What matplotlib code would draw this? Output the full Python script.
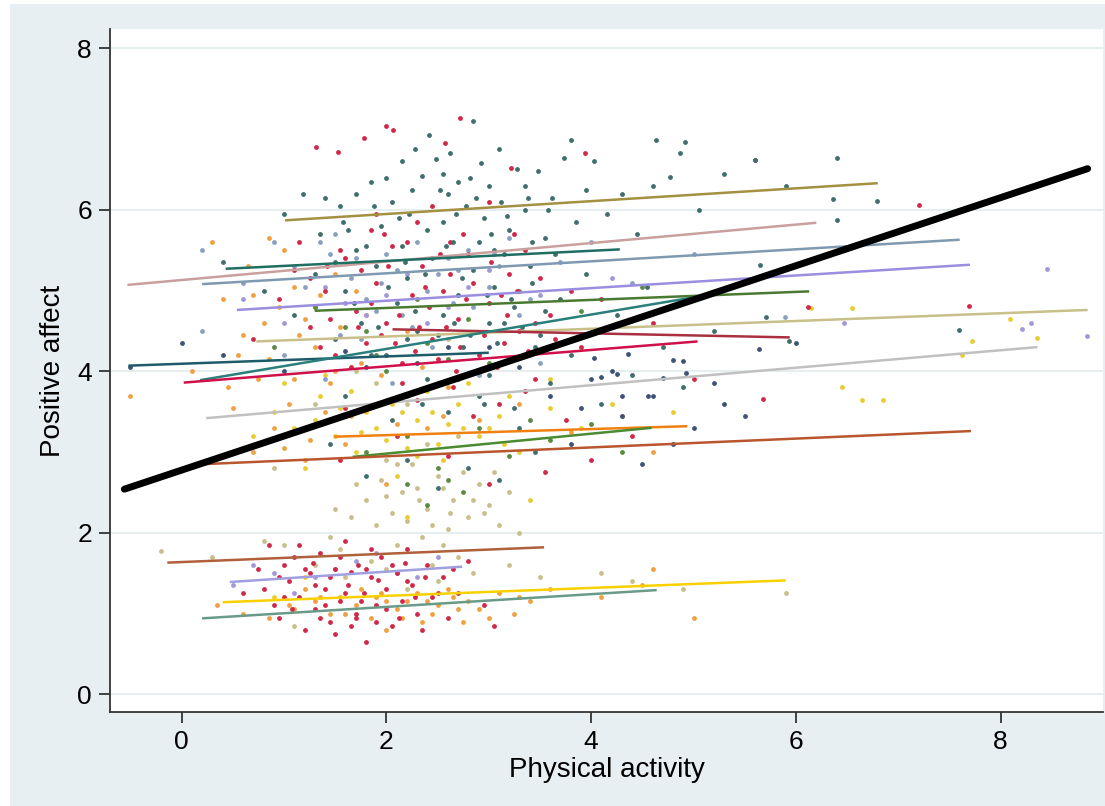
import matplotlib
matplotlib.use("Agg")
import matplotlib.pyplot as plt
from matplotlib.patches import Rectangle

plt.rcParams['font.family'] = ['Liberation Sans', 'DejaVu Sans']

# group-level fitted lines: (colour, x0, y0, x1, y1)
group_lines = [
    ('#a39040', 1.01, 5.87, 6.80, 6.33),
    ('#c9a09e', -0.53, 5.07, 6.20, 5.84),
    ('#7f9ab0', 0.20, 5.08, 7.60, 5.63),
    ('#1f6e62', 0.43, 5.27, 4.28, 5.51),
    ('#9a8ee0', 0.54, 4.76, 7.70, 5.32),
    ('#4a7a30', 1.30, 4.75, 6.13, 4.99),
    ('#c8c088', 0.73, 4.37, 8.85, 4.76),
    ('#a83040', 2.06, 4.52, 5.94, 4.42),
    ('#1d5a6a', -0.52, 4.07, 3.00, 4.23),
    ('#2a7f7a', 0.18, 3.89, 5.16, 4.95),
    ('#d0104a', 0.02, 3.86, 5.04, 4.37),
    ('#c0c0c0', 0.24, 3.42, 8.36, 4.30),
    ('#f08010', 1.49, 3.19, 4.94, 3.32),
    ('#4a8a30', 1.67, 2.94, 4.59, 3.30),
    ('#b8562e', 0.21, 2.85, 7.71, 3.26),
    ('#b0603a', -0.14, 1.63, 3.54, 1.82),
    ('#a0a0e0', 0.47, 1.39, 2.74, 1.58),
    ('#f8d000', 0.40, 1.14, 5.90, 1.41),
    ('#6a9a88', 0.20, 0.94, 4.64, 1.29),
]

# overall fixed-effect line
overall_x = [-0.56, 8.85]
overall_y = [2.54, 6.51]

# observations, grouped by marker colour
pts_dark = [(1.0, 5.95), (1.19, 6.2), (1.35, 5.7), (1.55, 6.05), (1.7, 5.5), (1.85, 6.35), (1.95, 5.8),
            (2.05, 6.1), (2.15, 5.55), (2.25, 6.25), (2.35, 6.42), (2.42, 6.93), (2.48, 6.63), (2.55, 5.85),
            (2.6, 6.2), (2.65, 5.6), (2.7, 6.35), (2.78, 6.05), (2.85, 7.1), (2.92, 6.58), (2.95, 5.9),
            (3.0, 6.3), (3.05, 5.5), (3.12, 6.1), (3.2, 5.75), (3.28, 6.5), (3.35, 6.0), (3.48, 6.48),
            (3.55, 5.65), (3.62, 6.15), (3.73, 6.64), (3.8, 6.86), (3.85, 5.85), (3.95, 6.25), (4.03, 6.6),
            (4.15, 5.95), (4.3, 6.2), (4.45, 5.7), (4.6, 6.3), (4.63, 6.86), (4.77, 6.41), (4.87, 6.7),
            (4.92, 6.84), (5.05, 6.0), (5.3, 6.45), (5.6, 6.62), (5.9, 6.3), (6.36, 6.13), (6.4, 6.64),
            (6.79, 6.11), (6.4, 5.88), (0.4, 5.35), (0.8, 5.0), (1.1, 4.7), (1.3, 5.2), (1.5, 4.4),
            (1.6, 5.0), (1.75, 4.6), (1.9, 5.3), (2.0, 4.2), (2.1, 4.85), (2.2, 5.15), (2.3, 4.5), (2.4, 3.9),
            (2.45, 5.4), (2.55, 4.7), (2.6, 3.5), (2.7, 4.95), (2.75, 4.3), (2.85, 5.25), (2.9, 3.7),
            (3.0, 4.6), (3.05, 5.05), (3.15, 4.1), (3.25, 4.8), (3.3, 3.3), (3.4, 5.3), (3.5, 4.45),
            (3.6, 3.85), (3.7, 4.9), (3.8, 4.2), (3.95, 5.2), (4.1, 3.6), (4.25, 4.7), (4.4, 3.95),
            (4.55, 5.05), (4.7, 4.3), (4.9, 3.8), (5.2, 4.5), (5.65, 5.32), (5.71, 4.67), (5.93, 4.37),
            (7.59, 4.51), (1.45, 3.1), (1.8, 2.7), (2.2, 2.9), (2.5, 2.55), (2.8, 2.8), (3.1, 2.65),
            (3.45, 3.0), (2.05, 3.4), (1.6, 3.7), (2.12, 5.9), (2.4, 5.75), (2.68, 5.95), (2.88, 6.15),
            (3.18, 5.92), (3.42, 5.6), (1.62, 5.75), (1.4, 6.15),
            (1.5, 5.35), (1.68, 4.85), (1.8, 5.55), (1.92, 4.55), (2.02, 5.05), (2.18, 5.35), (2.28, 4.75),
            (2.38, 5.2), (2.5, 4.45), (2.58, 5.55), (2.66, 4.6), (2.74, 5.15), (2.82, 4.45), (2.9, 5.6),
            (2.98, 4.95), (3.08, 4.35), (3.15, 5.45), (3.22, 4.9), (3.32, 4.55), (3.42, 5.1), (3.55, 4.75),
            (3.65, 5.45), (2.35, 3.6), (2.7, 3.9), (3.0, 3.95), (3.25, 3.55), (2.15, 6.6), (2.55, 6.45),
            (3.1, 6.75), (3.35, 6.3), (2.0, 6.4), (1.7, 6.2),
            (1.58, 5.85), (1.88, 6.05), (2.22, 5.95), (2.52, 6.25), (2.82, 6.4), (3.02, 5.7), (3.38, 6.15),
            (3.58, 6.0), (2.28, 6.75), (2.62, 6.7), (3.15, 4.6), (2.2, 4.4), (1.85, 4.2), (2.95, 3.6),
            (3.45, 4.3)]

pts_red = [(0.7, 4.4), (0.95, 4.9), (1.1, 5.25), (1.25, 4.55), (1.4, 5.0), (1.5, 4.2), (1.6, 5.4),
           (1.7, 4.75), (1.8, 4.35), (1.9, 5.1), (2.0, 4.6), (2.05, 5.55), (2.15, 4.1), (2.25, 4.95),
           (2.35, 5.3), (2.45, 4.4), (2.55, 5.0), (2.65, 3.8), (2.7, 4.65), (2.8, 5.45), (2.9, 4.2),
           (3.0, 4.85), (3.1, 3.6), (3.2, 5.2), (3.3, 4.5), (3.45, 3.9), (3.6, 4.7), (3.75, 3.4),
           (3.9, 4.3), (4.1, 4.9), (4.4, 3.2), (4.6, 4.6), (5.0, 3.9), (5.68, 3.66), (6.12, 4.8),
           (7.2, 6.06), (7.69, 4.81), (5.6, 6.62), (1.31, 6.78), (1.53, 6.72), (1.78, 6.89), (2.0, 7.04),
           (2.06, 6.99), (2.72, 7.14), (2.57, 6.83), (3.22, 6.52), (3.94, 6.71), (1.2, 3.3), (1.55, 2.9),
           (2.1, 3.2), (2.6, 2.95), (3.0, 2.6), (3.55, 2.75), (4.0, 2.9), (1.15, 5.6), (1.85, 5.75),
           (2.3, 5.85), (2.75, 5.7), (3.35, 5.5), (1.35, 4.3), (2.5, 4.15), (3.15, 4.35),
           (1.25, 5.15), (1.45, 4.65), (1.55, 5.5), (1.65, 4.05), (1.75, 5.25), (1.85, 4.85), (1.95, 4.45),
           (2.02, 5.3), (2.12, 4.7), (2.2, 5.6), (2.28, 4.25), (2.38, 5.05), (2.42, 4.8), (2.52, 5.45),
           (2.58, 4.55), (2.62, 5.2), (2.68, 4.0), (2.78, 4.9), (2.85, 5.1), (2.95, 4.45), (3.02, 5.35),
           (3.08, 4.05), (3.18, 4.7), (3.28, 5.0), (3.38, 4.25), (3.5, 5.15), (3.65, 4.4), (3.8, 5.0),
           (1.6, 3.55), (2.3, 3.65), (2.85, 3.45), (3.35, 3.75), (1.9, 5.95), (2.45, 6.05), (3.0, 6.1),
           (1.72, 4.55), (2.08, 4.35), (2.32, 4.55), (2.72, 4.3), (3.12, 4.95), (3.45, 4.6), (1.42, 5.3),
           (1.98, 5.7), (2.62, 5.6), (3.25, 5.7), (2.8, 3.95), (2.15, 3.85),
           (0.6, 1.25), (0.75, 1.55), (0.85, 1.85), (0.9, 1.1), (0.95, 0.95), (1.05, 1.4), (1.1, 1.7),
           (1.15, 1.2), (1.2, 0.8), (1.25, 1.5), (1.3, 1.05), (1.35, 1.75), (1.4, 1.3), (1.45, 0.9),
           (1.5, 1.55), (1.55, 1.15), (1.6, 1.9), (1.62, 1.35), (1.7, 1.0), (1.72, 1.6), (1.78, 1.25),
           (1.8, 0.65), (1.85, 1.45), (1.9, 1.1), (1.95, 1.7), (2.0, 1.3), (2.05, 0.85), (2.1, 1.5),
           (2.15, 1.15), (2.2, 1.8), (2.25, 1.35), (2.3, 1.0), (2.4, 1.6), (2.45, 1.2), (2.55, 1.45),
           (2.6, 0.95), (2.7, 1.25), (2.8, 1.65), (2.95, 1.1), (3.05, 0.85), (1.0, 1.6), (0.8, 1.3),
           (1.5, 0.75), (2.35, 0.8), (1.28, 1.62), (1.65, 1.52), (1.92, 1.42), (2.18, 1.62), (1.08, 1.05),
           (1.0, 1.2), (1.2, 1.55), (1.4, 1.1), (1.6, 1.25), (1.8, 1.55), (2.0, 1.05), (2.2, 1.4),
           (1.35, 0.95), (1.65, 0.85), (1.9, 0.9), (2.5, 1.25), (2.65, 1.55),
           (1.15, 1.85), (1.45, 1.45), (1.55, 1.7), (1.75, 1.15), (1.85, 1.8), (2.05, 1.6), (2.28, 1.2),
           (2.38, 1.45), (1.3, 1.35), (0.95, 1.45), (1.7, 0.95), (2.12, 0.95)]

pts_orange = [(-0.5, 3.7), (0.1, 4.0), (0.3, 5.6), (0.5, 3.55), (0.65, 5.3), (0.7, 3.0), (0.8, 4.6),
              (0.9, 3.3), (1.0, 5.5), (1.1, 3.9), (1.2, 2.9), (1.3, 4.3), (1.4, 3.5), (1.5, 5.2), (1.6, 3.1),
              (1.75, 4.1), (1.9, 3.6), (2.0, 2.6), (2.2, 4.5), (2.4, 3.3), (2.6, 3.8), (2.9, 3.4),
              (3.3, 3.6), (3.8, 3.25), (4.3, 3.45), (4.6, 3.0), (0.4, 4.9), (0.55, 4.2), (0.85, 5.65),
              (0.6, 4.45), (0.75, 3.9), (0.95, 4.8), (1.05, 3.6), (1.15, 4.45), (1.25, 3.15), (1.35, 4.95),
              (1.45, 3.85), (1.55, 4.55), (1.65, 3.45), (1.8, 4.7), (1.95, 3.95), (2.1, 3.35), (2.35, 4.05),
              (2.55, 3.45), (1.0, 3.05), (0.7, 4.95), (0.85, 4.15), (1.2, 4.65), (1.5, 4.0), (0.45, 3.8),
              (1.7, 5.0), (1.1, 5.05),
              (0.35, 1.1), (0.6, 1.0), (0.85, 0.95), (1.1, 1.05), (1.3, 1.15), (1.45, 1.0), (1.55, 1.2),
              (1.7, 1.1), (1.85, 0.95), (1.95, 1.25), (2.1, 1.05), (2.2, 1.15), (2.35, 0.9), (2.5, 1.1),
              (2.65, 1.2), (2.75, 0.9), (2.9, 1.05), (3.1, 1.25), (3.25, 1.0), (3.4, 1.15), (3.6, 1.3),
              (4.1, 1.2), (4.5, 1.35), (4.6, 1.55), (5.0, 0.95), (1.2, 1.3), (2.0, 0.8),
              (1.75, 1.3), (2.0, 1.15), (2.3, 1.25), (2.45, 1.0), (2.6, 1.3), (2.8, 1.15), (3.0, 0.95),
              (3.3, 1.2), (1.6, 1.0), (1.9, 1.2), (2.15, 0.95), (2.4, 1.15), (2.7, 1.05), (1.35, 1.2),
              (1.05, 1.1)]

pts_yellow = [(0.9, 3.5), (1.1, 3.3), (1.2, 2.8), (1.35, 3.7), (1.5, 3.2), (1.7, 3.0), (1.8, 3.5),
              (2.0, 3.15), (2.1, 2.7), (2.3, 3.4), (2.5, 3.1), (2.7, 3.6), (2.9, 3.2), (3.1, 3.45),
              (3.3, 3.0), (3.6, 3.55), (3.9, 3.3), (4.2, 3.6), (4.8, 3.5), (6.15, 4.78), (6.55, 4.79),
              (8.09, 4.65), (8.36, 4.41), (7.72, 4.38), (7.62, 4.2), (6.45, 3.8), (6.65, 3.65),
              (6.85, 3.64), (1.2, 1.45), (0.9, 1.2), (2.2, 2.2), (3.4, 2.4),
              (1.55, 3.55), (1.65, 3.75), (1.9, 3.3), (2.15, 3.5), (2.4, 3.75), (2.6, 3.35), (2.8, 3.85),
              (3.0, 3.3), (3.2, 3.7), (1.4, 3.95), (2.3, 2.95), (2.55, 2.9), (1.0, 3.85), (0.7, 3.2),
              (3.6, 3.9), (1.75, 3.25), (2.05, 3.6), (2.45, 3.5), (2.75, 3.3), (3.15, 3.1), (1.3, 3.4),
              (2.2, 3.05)]

pts_khaki = [(1.5, 2.3), (1.7, 2.6), (1.9, 2.1), (2.0, 2.45), (2.1, 2.85), (2.2, 2.15), (2.3, 2.55),
             (2.4, 2.3), (2.5, 2.7), (2.6, 2.05), (2.65, 2.4), (2.8, 2.2), (2.9, 2.6), (3.0, 2.35),
             (3.1, 2.1), (3.2, 2.5), (2.35, 1.95), (2.55, 1.85), (2.7, 1.7), (0.8, 1.9), (1.0, 1.85),
             (1.3, 1.6), (1.6, 1.45), (2.0, 1.55), (2.2, 1.3), (2.5, 1.4), (2.85, 1.5), (3.2, 1.6),
             (3.5, 1.45), (-0.2, 1.78), (0.3, 1.7), (1.1, 0.85), (1.45, 1.95), (4.1, 1.5), (4.4, 1.4),
             (4.9, 1.3), (5.9, 1.25), (0.9, 2.8), (1.3, 3.6), (1.7, 4.0), (2.6, 4.4),
             (1.95, 2.65), (2.15, 2.5), (2.25, 2.85), (2.45, 2.1), (2.55, 2.55), (2.75, 2.75), (2.95, 2.25),
             (3.05, 2.75), (2.05, 2.25), (1.8, 2.4), (2.4, 3.1), (2.7, 3.2), (2.2, 3.6), (1.9, 3.85),
             (1.65, 2.2), (2.32, 2.4), (2.62, 2.25), (2.85, 2.4), (1.85, 1.65), (2.1, 1.85), (2.45, 1.6),
             (1.55, 1.8), (3.3, 2.0), (2.0, 2.9)]

pts_bluegrey = [(0.2, 5.5), (0.6, 5.1), (0.9, 5.6), (1.1, 5.3), (1.3, 4.8), (1.5, 5.7), (1.65, 5.15),
                (1.8, 4.9), (2.0, 5.45), (2.15, 4.7), (2.3, 5.6), (2.5, 5.2), (2.65, 4.85), (2.8, 5.5),
                (3.0, 5.05), (3.2, 5.65), (3.4, 4.9), (3.7, 5.35), (4.0, 5.6), (4.4, 5.1), (5.0, 5.45),
                (5.89, 4.67), (1.0, 4.2), (1.4, 3.9), (2.2, 3.7), (2.9, 3.95), (3.5, 4.1), (0.2, 4.5),
                (1.2, 5.05), (1.45, 5.45), (1.7, 5.4), (1.9, 4.75), (2.1, 5.25), (2.4, 5.0), (2.6, 5.4),
                (2.85, 4.8), (3.1, 5.3), (3.3, 4.7), (1.55, 4.45), (2.45, 4.3), (2.05, 3.85),
                (1.35, 5.6), (1.95, 5.1), (2.7, 5.25), (3.05, 5.45), (2.25, 4.55), (3.2, 4.15), (1.75, 4.4)]

pts_lavender = [(0.6, 4.9), (1.0, 4.6), (1.4, 5.05), (1.8, 4.7), (2.2, 5.2), (2.6, 4.8), (3.0, 5.25),
                (3.5, 4.95), (4.2, 5.15), (6.47, 4.6), (8.3, 4.6), (8.21, 4.53), (8.84, 4.44), (8.45, 5.27),
                (1.6, 4.85), (2.0, 4.95), (2.4, 4.6), (2.8, 5.05),
                (0.5, 1.35), (0.9, 1.5), (1.3, 1.45), (1.7, 1.65), (2.1, 1.5), (2.5, 1.7), (1.1, 1.25),
                (0.7, 1.6), (1.5, 1.55), (1.9, 1.75), (2.3, 1.45)]

pts_green = [(1.3, 4.8), (1.8, 4.5), (2.3, 4.9), (2.8, 4.65), (3.3, 5.0), (3.9, 4.75), (4.5, 5.05),
             (1.8, 3.0), (2.2, 3.2), (2.5, 2.8), (2.9, 3.3), (3.2, 2.95), (3.6, 3.15), (4.0, 3.35),
             (4.3, 3.0), (2.4, 2.35), (2.75, 2.5), (0.9, 4.3), (2.0, 4.0),
             (1.9, 4.2), (2.4, 4.35), (2.6, 4.15), (3.0, 4.1), (2.2, 2.6), (2.6, 2.65), (3.4, 3.4), (1.6, 4.55)]

pts_navy = [(-0.5, 4.05), (0.0, 4.35), (0.4, 4.2), (1.0, 4.0), (1.6, 4.25), (2.3, 4.1), (3.0, 4.3),
            (3.6, 3.7), (4.0, 3.9), (4.3, 3.45), (4.6, 3.7), (5.0, 3.3), (5.2, 3.85), (5.5, 3.45),
            (6.0, 4.35), (3.8, 3.1), (4.5, 2.85), (4.8, 3.1), (5.3, 3.6), (4.03, 4.17), (4.36, 4.22),
            (4.8, 4.14), (4.9, 4.13), (4.1, 3.93), (4.25, 3.97), (4.7, 3.92), (4.93, 3.98), (5.64, 4.28),
            (4.3, 3.7), (4.56, 3.7), (1.8, 4.05), (2.6, 4.3), (3.3, 4.05), (3.9, 3.55), (4.2, 4.0)]

point_sets = [
    (pts_khaki, '#c8bf8a'),
    (pts_yellow, '#e8cc30'),
    (pts_orange, '#f0a040'),
    (pts_lavender, '#a098d8'),
    (pts_bluegrey, '#8aa0c0'),
    (pts_green, '#5a8a40'),
    (pts_navy, '#3e5276'),
    (pts_red, '#d02848'),
    (pts_dark, '#3f6e6c'),
]

fig = plt.figure(figsize=(11.05, 8.06), dpi=100, facecolor='white')
fig.patches.append(Rectangle((10 / 1105, 0), 1 - 10 / 1105, 1 - 4 / 806, transform=fig.transFigure,
                             facecolor='#e8eff2', edgecolor='none', zorder=-10))
ax = fig.add_axes([110 / 1105, 94 / 806, 993 / 1105, 683 / 806])
ax.set_zorder(1)
ax.set_facecolor('white')

for pts, col in point_sets:
    xs, ys = zip(*pts)
    ax.scatter(xs, ys, s=12, color=col, linewidths=0, zorder=2)

for col, x0, y0, x1, y1 in group_lines:
    ax.plot([x0, x1], [y0, y1], color=col, lw=1.8, zorder=3, solid_capstyle='butt')

ax.plot(overall_x, overall_y, color='black', lw=5, zorder=4, solid_capstyle='round')

ax.set_xlim(-0.70, 9.0)
ax.set_ylim(-0.22, 8.24)
ax.set_xticks([0, 2, 4, 6, 8])
ax.set_yticks([0, 2, 4, 6, 8])
ax.yaxis.grid(True, color='#e6eef0', lw=1.5, zorder=0)
ax.set_axisbelow(True)
for side in ['top', 'right']:
    ax.spines[side].set_visible(False)
for side in ['left', 'bottom']:
    ax.spines[side].set_color('#333333')
    ax.spines[side].set_linewidth(1.3)
ax.tick_params(axis='both', length=8, width=1.3, color='#333333', labelsize=19, pad=5)
ax.set_xlabel('Physical activity', fontsize=20, labelpad=2)
ax.set_ylabel('Positive affect', fontsize=20, labelpad=8)

fig.savefig('out.png', dpi=100, facecolor=fig.get_facecolor())
